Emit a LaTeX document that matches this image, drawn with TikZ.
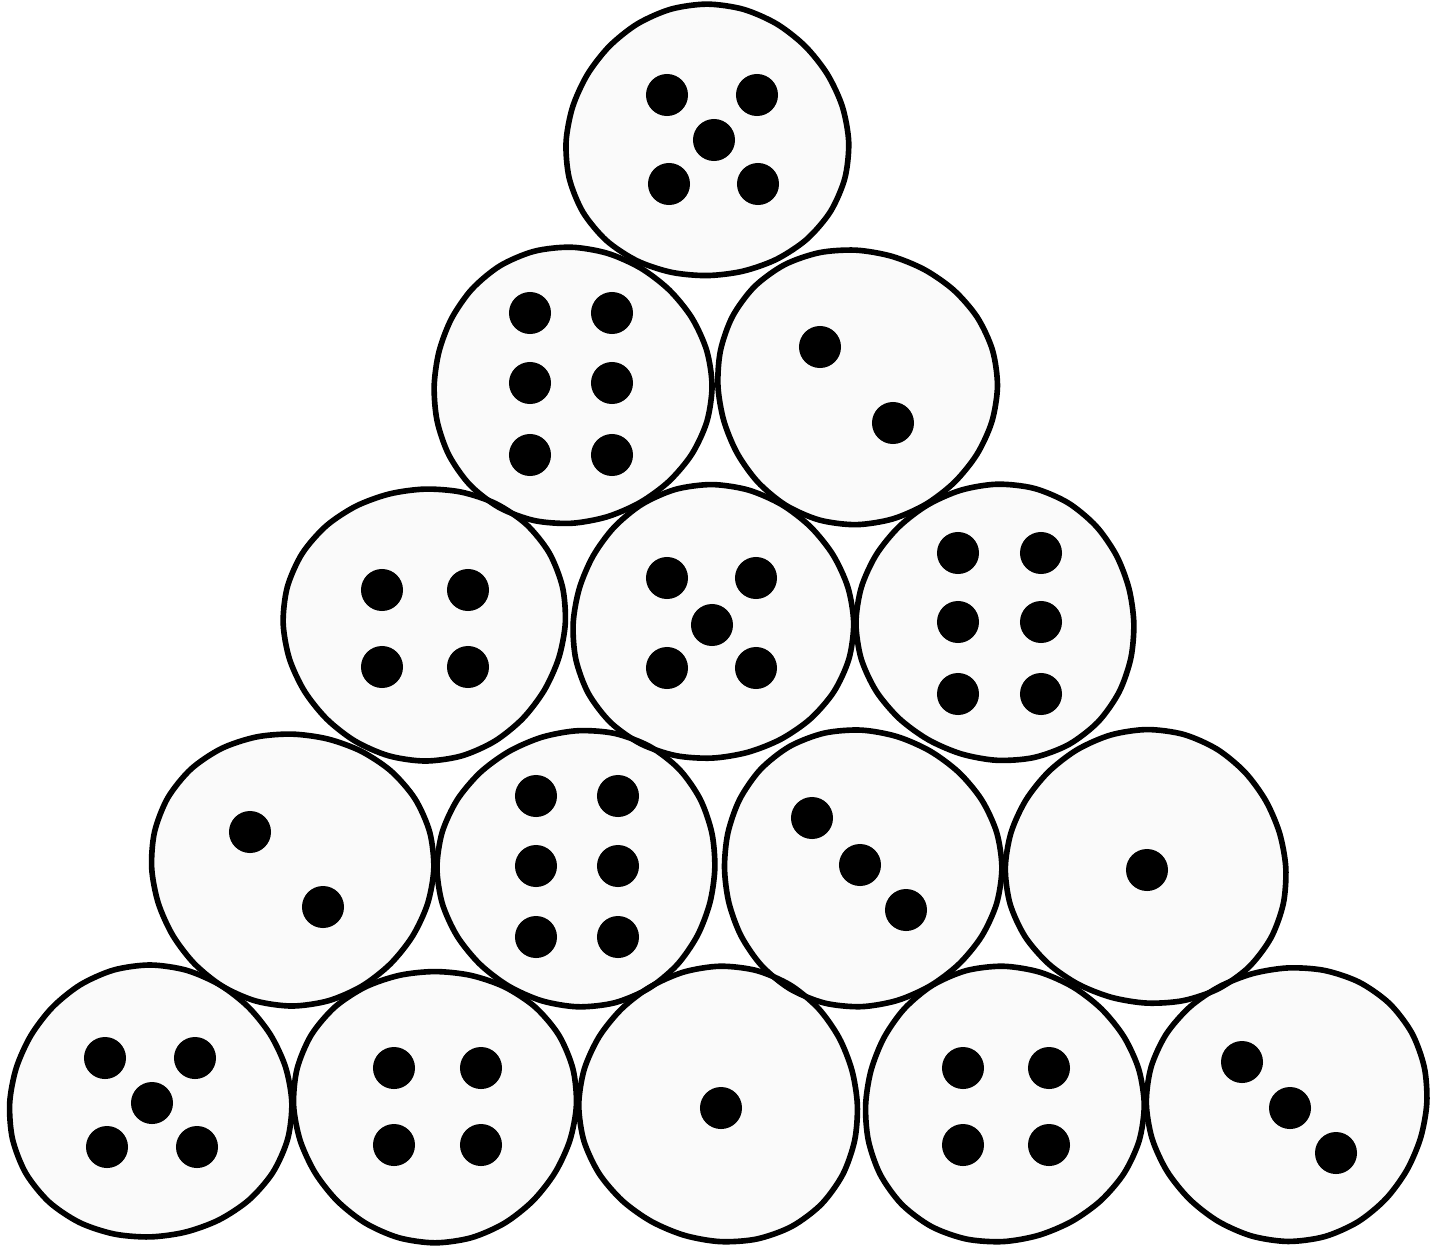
\documentclass[tikz,border=0pt]{standalone}
\usetikzlibrary{calc}
\definecolor{diefill}{HTML}{FAFAFA}
\tikzset{
  dieline/.style={draw=black, line width=1.6pt, line join=round},
  diebody/.style={fill=diefill},
  pipdot/.style={fill=black}
}
\newcommand\dieshape[4]{% style, cx, cy, phase
  \path[#1] plot[smooth cycle, domain=0:345, samples=24, variable=\t]
    ({#2+140*(1+0.016*sin(3*\t+#4)+0.010*cos(2*\t+2*#4))*cos(\t)},
     {#3+137*(1+0.016*sin(3*\t+#4)+0.010*cos(2*\t+2*#4))*sin(\t)});
}
\begin{document}
\begin{tikzpicture}[x=0.01cm,y=-0.01cm]
\useasboundingbox (0,0) rectangle (1442,1245);
% centres
\def\dielist{707/142/10, 571/386/70, 856/386/130, 425/623/200, 712/623/40, 997/623/290, 292/868/160, 578/868/250, 861/868/100, 1147/868/320, 150/1103/20, 435/1105/180, 720/1105/300, 1003/1105/60, 1288/1103/220}
\foreach \cx/\cy/\ph in \dielist {\dieshape{diebody}{\cx}{\cy}{\ph}}
\foreach \cx/\cy/\ph in \dielist {\dieshape{dieline}{\cx}{\cy}{\ph}}
% top five
\foreach \p in {(667,95),(757,95),(714,140),(669,184),(758,184)} \fill[pipdot] \p circle[radius=0.21cm];
% row 2
\foreach \p in {(530,313),(612,313),(530,383),(612,383),(530,455),(612,455)} \fill[pipdot] \p circle[radius=0.21cm];
\foreach \p in {(820,347),(893,423)} \fill[pipdot] \p circle[radius=0.21cm];
% row 3
\foreach \p in {(382,590),(468,590),(382,667),(468,667)} \fill[pipdot] \p circle[radius=0.21cm];
\foreach \p in {(667,578),(756,578),(712,625),(667,668),(756,668)} \fill[pipdot] \p circle[radius=0.21cm];
\foreach \p in {(958,553),(1041,553),(958,622),(1041,622),(958,694),(1041,694)} \fill[pipdot] \p circle[radius=0.21cm];
% row 4
\foreach \p in {(250,832),(323,907)} \fill[pipdot] \p circle[radius=0.21cm];
\foreach \p in {(536,796),(618,796),(536,866),(618,866),(536,937),(618,937)} \fill[pipdot] \p circle[radius=0.21cm];
\foreach \p in {(812,818),(860,865),(906,910)} \fill[pipdot] \p circle[radius=0.21cm];
\foreach \p in {(1147,870)} \fill[pipdot] \p circle[radius=0.21cm];
% row 5
\foreach \p in {(105,1058),(195,1058),(152,1103),(107,1147),(197,1147)} \fill[pipdot] \p circle[radius=0.21cm];
\foreach \p in {(394,1068),(481,1068),(394,1145),(481,1145)} \fill[pipdot] \p circle[radius=0.21cm];
\foreach \p in {(721,1108)} \fill[pipdot] \p circle[radius=0.21cm];
\foreach \p in {(963,1068),(1049,1068),(963,1145),(1049,1145)} \fill[pipdot] \p circle[radius=0.21cm];
\foreach \p in {(1242,1062),(1290,1108),(1336,1153)} \fill[pipdot] \p circle[radius=0.21cm];
\end{tikzpicture}
\end{document}
